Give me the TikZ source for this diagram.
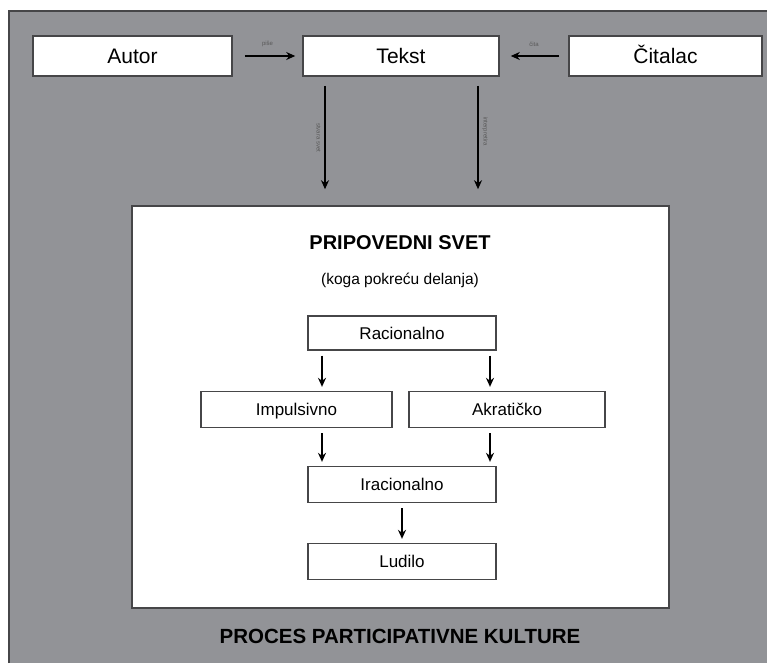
\documentclass[tikz,border=0pt]{standalone}
\usepackage{fontspec}
\setmainfont{Liberation Sans}
\usetikzlibrary{arrows.meta,positioning}
\definecolor{bggray}{RGB}{146,147,151}
\definecolor{edgegray}{RGB}{70,70,72}

\begin{document}
\begin{tikzpicture}[x=1pt,y=-1pt]
\tikzstyle{topbox} = [rectangle, draw=edgegray, line width=1.6pt, fill=white,
minimum height=40pt, inner sep=0pt, text height=19pt, text depth=4pt,
font=\fontsize{21}{24}\selectfont]
\tikzstyle{block} = [rectangle, draw=edgegray, line width=1.3pt, fill=white,
minimum width=188pt, minimum height=36pt, inner sep=0pt, text height=15.7pt, text depth=3.5pt,
font=\fontsize{17}{20}\selectfont]
\tikzstyle{line} = [draw, line width=2.2pt, -{Stealth[length=9pt,width=8pt]}];
\tikzstyle{tiny} = [font=\fontsize{6}{7}\selectfont, text=black!65];
\useasboundingbox (0,0) rectangle (767,663);
% background
\fill[bggray] (9,11) rectangle (767,663);
\draw[edgegray, line width=1.2pt] (9,663) -- (9,11) -- (767,11);
% row 1
\node [topbox, minimum width=199pt] (autor) at (132.5,56) {Autor};
\node [topbox, minimum width=196pt] (tekst) at (401,56) {Tekst};
\node [topbox, minimum width=193pt] (citalac) at (665.5,56) {Čitalac};
% narrative world
\node [rectangle, draw=edgegray, line width=1.6pt, fill=white,
minimum width=537pt, minimum height=402pt] (svet) at (400.5,407) {};
\node [font=\bfseries\fontsize{20}{24}\selectfont] (naslov) at (400,243) {PRIPOVEDNI SVET};
\node [font=\fontsize{15.5}{18}\selectfont] (podnaslov) at (400,280) {(koga pokreću delanja)};
\node [block, minimum height=34pt] (racionalno) at (402,333) {Racionalno};
\node [block, minimum width=191pt] (impulsivno) at (296.5,409.5) {Impulsivno};
\node [block, minimum width=196pt] (akraticko) at (507,409.5) {Akratičko};
\node [block] (iracionalno) at (402,484.5) {Iracionalno};
\node [block] (ludilo) at (402,561.5) {Ludilo};
\node [font=\bfseries\fontsize{20.5}{24}\selectfont] (proces) at (400,636) {PROCES PARTICIPATIVNE KULTURE};

\tikzstyle{every path}=[line]
\path[shorten <=12pt, shorten >=7pt] (autor) -- node[tiny, above=5pt] {piše} (tekst);
\path[shorten <=9pt, shorten >=11pt] (citalac) -- node[tiny, above=5pt] {čita} (tekst);
\path[shorten <=9pt, shorten >=16pt] ([xshift=-76pt]tekst.south) -- node[tiny, rotate=-90, below=3pt, pos=0.45] {stvara svet} ([xshift=-76pt]tekst.south |- svet.north);
\path[shorten <=9pt, shorten >=16pt] ([xshift=77pt]tekst.south) -- node[tiny, rotate=-90, above=3pt, pos=0.45] {interpretira} ([xshift=77pt]tekst.south |- svet.north);

\path[shorten <=5pt, shorten >=4pt] ([xshift=-80pt]racionalno.south) -- ([xshift=-80pt]racionalno.south |- impulsivno.north);
\path[shorten <=5pt, shorten >=4pt] ([xshift=88pt]racionalno.south) -- ([xshift=88pt]racionalno.south |- akraticko.north);
\path[shorten <=5pt, shorten >=4pt] ([xshift=25.5pt]impulsivno.south) -- ([xshift=25.5pt]impulsivno.south |- iracionalno.north);
\path[shorten <=5pt, shorten >=4pt] ([xshift=-17pt]akraticko.south) -- ([xshift=-17pt]akraticko.south |- iracionalno.north);
\path[shorten <=5pt, shorten >=4pt] (iracionalno) -- (ludilo);
\end{tikzpicture}
\end{document}
